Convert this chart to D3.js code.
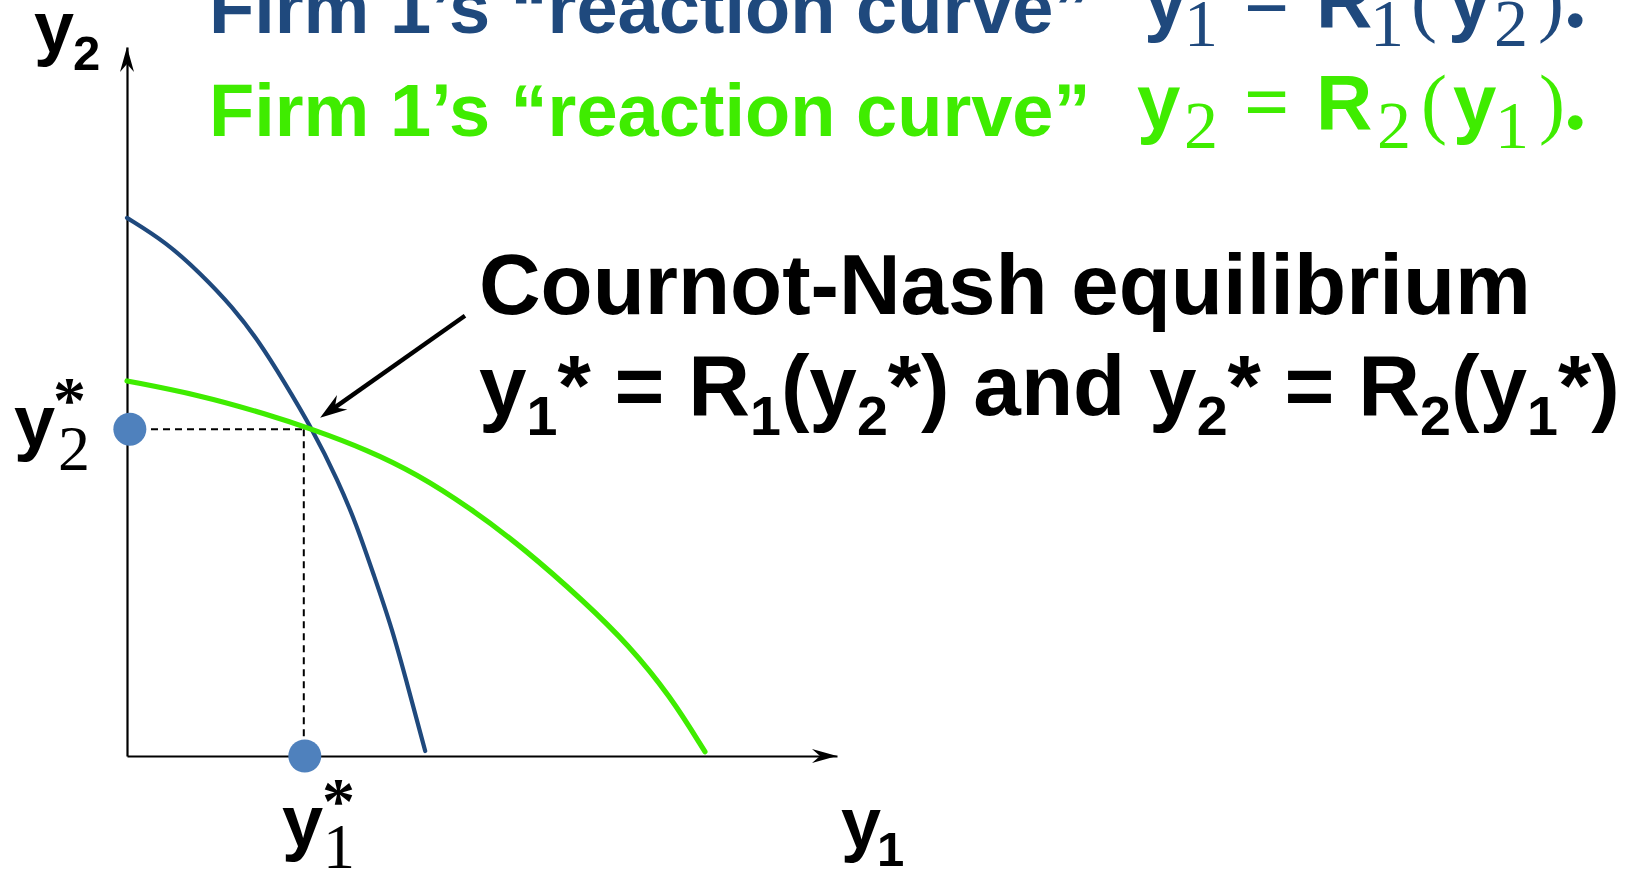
<!DOCTYPE html>
<html>
<head>
<meta charset="utf-8">
<script src="https://cdn.jsdelivr.net/npm/d3@7"></script>
<style>
  html, body { margin: 0; padding: 0; background: #ffffff; }
  svg { display: block; }
  text { white-space: pre; }
</style>
</head>
<body>
<script>
// ---------------- data ----------------
// Firm 1's reaction curve y1 = R1(y2)  (blue)
const blueX = [0, 0.56, 1.03, 1.49, 1.87, 2.20, 2.61, 2.97, 3.23, 3.48, 3.73, 3.97, 4.20];
const blueY = [7.59, 7.24, 6.81, 6.33, 5.83, 5.30, 4.61, 3.89, 3.27, 2.54, 1.81, 0.93, 0.07];
// Firm 2's reaction curve y2 = R2(y1)  (green)
const greenX = [0, 1.03, 1.97, 2.61, 3.38, 4.08, 4.83, 5.59, 6.46, 7.06, 7.65, 8.14];
const greenY = [5.29, 5.09, 4.82, 4.61, 4.32, 3.98, 3.50, 2.93, 2.16, 1.57, 0.85, 0.06];
// Cournot-Nash equilibrium
const eqX = 2.49;
const eqY = 4.61;
// callout arrow (tail, tip) in data units
const calloutX = [4.76, 2.72];
const calloutY = [6.21, 4.77];
// axis extent
const axisMax = [10, 10];

// ---------------- setup ----------------
const W = 1642, H = 869;
const BLUE = "#1F497D", GREEN = "#3FEC00", DOT = "#4F81BD";
const SANS = "'Liberation Sans', Arial, sans-serif";
const SERIF = "'Liberation Serif', 'Times New Roman', serif";

const svg = d3.select("body").append("svg").attr("width", W).attr("height", H);
svg.append("rect").attr("width", W).attr("height", H).attr("fill", "#fff");

const x = d3.scaleLinear().domain([0, axisMax[0]]).range([127, 837]);
const y = d3.scaleLinear().domain([0, axisMax[1]]).range([756, 47]);

// arrowhead helper: stealth head, tip at (tx,ty), direction angle (rad)
function arrowHead(g, tx, ty, ang, len, half, notch, color) {
  const p = `M0,0 L${-len},${-half} L${-notch},0 L${-len},${half} Z`;
  g.append("path").attr("d", p).attr("fill", color)
    .attr("transform", `translate(${tx},${ty}) rotate(${ang * 180 / Math.PI})`);
}

// ---------------- axes ----------------
const axG = svg.append("g");
const xAxis = d3.axisBottom(x).tickValues([]).tickSizeOuter(0);
const yAxis = d3.axisLeft(y).tickValues([]).tickSizeOuter(0);
axG.append("g").attr("transform", `translate(0,${y(0)})`).call(xAxis)
  .select(".domain").attr("stroke", "#000").attr("stroke-width", 2.2);
axG.append("g").attr("transform", `translate(${x(0)},0)`).call(yAxis)
  .select(".domain").attr("stroke", "#000").attr("stroke-width", 2.2);
arrowHead(axG, x(axisMax[0]), y(0), 0, 25, 7, 17, "#000");
arrowHead(axG, x(0), y(axisMax[1]), -Math.PI / 2, 25, 7, 17, "#000");

// ---------------- dashed guides ----------------
svg.append("line")
  .attr("x1", x(0)).attr("y1", y(eqY)).attr("x2", x(eqX)).attr("y2", y(eqY))
  .attr("stroke", "#000").attr("stroke-width", 2).attr("stroke-dasharray", "7,5");
svg.append("line")
  .attr("x1", x(eqX)).attr("y1", y(eqY)).attr("x2", x(eqX)).attr("y2", y(0))
  .attr("stroke", "#000").attr("stroke-width", 2).attr("stroke-dasharray", "7,5");

// ---------------- curves ----------------
const line = d3.line().x(d => x(d[0])).y(d => y(d[1])).curve(d3.curveBasis);
svg.append("path").datum(blueX.map((v, i) => [v, blueY[i]]))
  .attr("d", line).attr("fill", "none").attr("stroke", BLUE)
  .attr("stroke-width", 4.2).attr("stroke-linecap", "round");
svg.append("path").datum(greenX.map((v, i) => [v, greenY[i]]))
  .attr("d", line).attr("fill", "none").attr("stroke", GREEN)
  .attr("stroke-width", 5.2).attr("stroke-linecap", "round");

// ---------------- dots ----------------
svg.append("circle").attr("cx", x(0.04)).attr("cy", y(eqY)).attr("r", 16.5).attr("fill", DOT);
svg.append("circle").attr("cx", x(eqX) + 1).attr("cy", y(0)).attr("r", 16.5).attr("fill", DOT);

// ---------------- callout arrow ----------------
{
  const x1 = x(calloutX[0]), y1 = y(calloutY[0]), x2 = x(calloutX[1]), y2 = y(calloutY[1]);
  const ang = Math.atan2(y2 - y1, x2 - x1);
  const back = 16;
  svg.append("line").attr("x1", x1).attr("y1", y1)
    .attr("x2", x2 - back * Math.cos(ang)).attr("y2", y2 - back * Math.sin(ang))
    .attr("stroke", "#000").attr("stroke-width", 4.4);
  arrowHead(svg, x2, y2, ang, 27, 9, 18, "#000");
}

// ---------------- texts ----------------
function txt(str, px, py, size, family, color, weight) {
  return svg.append("text").attr("x", px).attr("y", py).text(str)
    .attr("font-family", family).attr("font-size", size)
    .attr("font-weight", weight || "bold").attr("fill", color);
}

// headings
txt("Firm 1\u2019s \u201Creaction curve\u201D", 209, 33, 74, SANS, BLUE);
txt("Firm 1\u2019s \u201Creaction curve\u201D", 209, 136, 74, SANS, GREEN);

// blue formula y1 = R1(y2).
txt("y", 1144, 27, 78, SANS, BLUE);
txt("1", 1184, 46, 68, SERIF, BLUE, "normal");
txt("=", 1244, 27, 80, SERIF, BLUE);
txt("R", 1316, 27, 78, SANS, BLUE);
txt("1", 1370, 46, 68, SERIF, BLUE, "normal");
txt("(", 1411, 27, 78, SERIF, BLUE, "normal");
txt("y", 1448, 27, 78, SANS, BLUE);
txt("2", 1494, 46, 68, SERIF, BLUE, "normal");
txt(")", 1538, 27, 78, SERIF, BLUE, "normal");
txt(".", 1564, 27, 90, SERIF, BLUE);

// green formula y2 = R2(y1).
txt("y", 1137, 129, 78, SANS, GREEN);
txt("2", 1184, 148, 68, SERIF, GREEN, "normal");
txt("=", 1244, 129, 80, SERIF, GREEN);
txt("R", 1316, 129, 78, SANS, GREEN);
txt("2", 1377, 148, 68, SERIF, GREEN, "normal");
txt("(", 1421, 129, 78, SERIF, GREEN, "normal");
txt("y", 1453, 129, 78, SANS, GREEN);
txt("1", 1495, 148, 68, SERIF, GREEN, "normal");
txt(")", 1539, 129, 78, SERIF, GREEN, "normal");
txt(".", 1564, 129, 90, SERIF, GREEN);

// Cournot-Nash annotation
txt("Cournot-Nash equilibrium", 479, 314, 85.3, SANS, "#000");
{
  const segs = [
    ["y", 0], ["1", 1], ["* = R", 0], ["1", 1], ["(y", 0], ["2", 1],
    ["*) and y", 0], ["2", 1], ["* = R", 0], ["2", 1], ["(y", 0], ["1", 1], ["*)", 0]
  ];
  const t = svg.append("text").attr("x", 479).attr("y", 415)
    .attr("font-family", SANS).attr("font-weight", "bold").attr("fill", "#000");
  let prev = 0;
  segs.forEach(([s, sub]) => {
    t.append("tspan").text(s)
      .attr("font-size", sub ? 55.6 : 85.5)
      .attr("dy", sub === prev ? 0 : (sub ? 20 : -20));
    prev = sub;
  });
}

// axis labels
txt("y", 34, 52, 72, SANS, "#000");
txt("2", 73, 70, 49, SANS, "#000");
txt("y", 841, 848, 72, SANS, "#000");
txt("1", 877, 866, 49, SANS, "#000");

// starred equilibrium labels
txt("y", 14, 447, 74, SANS, "#000");
txt("2", 58, 470, 64, SERIF, "#000", "normal");
txt("*", 53, 422, 66, SERIF, "#000", "bold");
txt("y", 282, 847, 74, SANS, "#000");
txt("1", 323, 868, 64, SERIF, "#000", "normal");
txt("*", 322, 823, 66, SERIF, "#000", "bold");
</script>
</body>
</html>
